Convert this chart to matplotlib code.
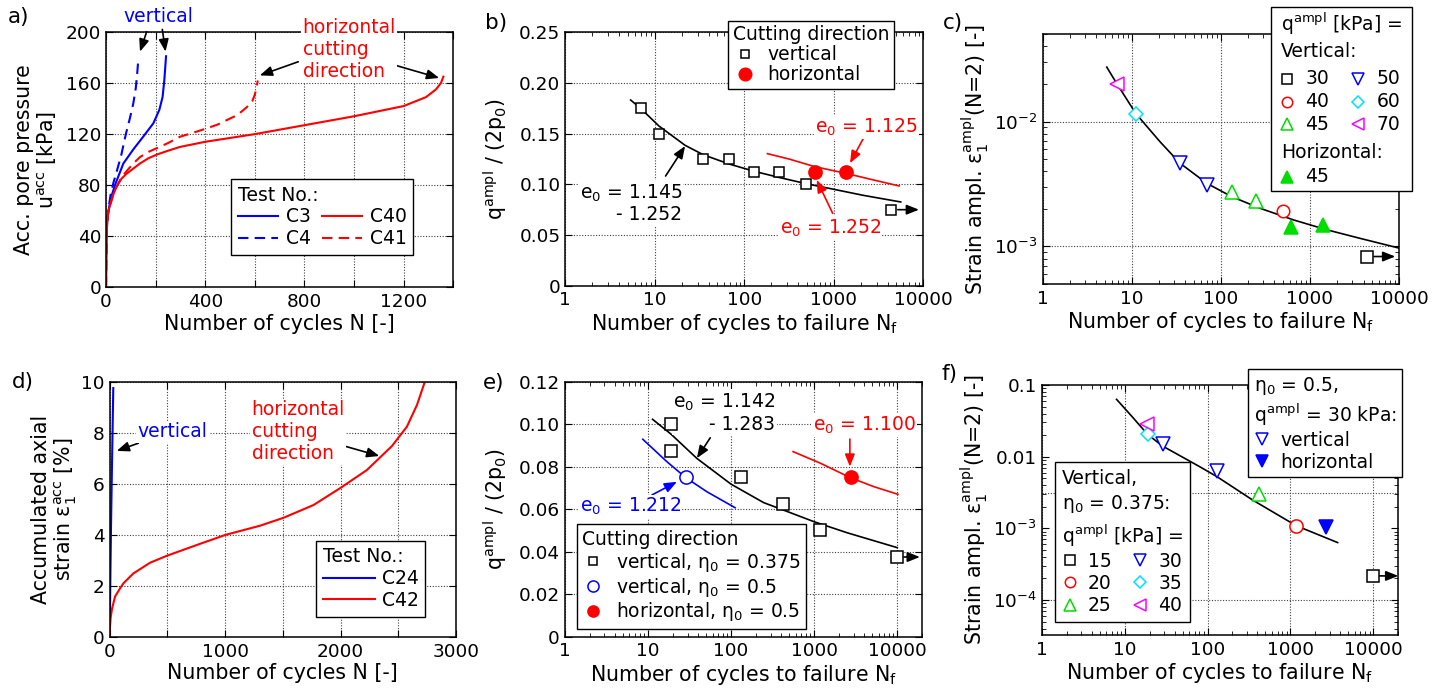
import matplotlib.pyplot as plt
import numpy as np
from matplotlib.lines import Line2D
from matplotlib.patches import Rectangle
from matplotlib.ticker import (FixedFormatter, FixedLocator, FuncFormatter,
                               LogLocator, MultipleLocator, NullFormatter)

W, H = 1449, 697
FS = 13.5          # legends, notes
FS_TICK = 13.3
FS_LABEL = 14.8
BLUE, RED, GREEN = '#0000ff', '#ff0000', '#00dd00'
CYAN, MAGENTA = '#00e0ff', '#ff00ff'

# ── a) accumulated pore pressure vs. N ───────────────────────────────────────
a_c3_n  = [0, 1, 2, 5, 9, 20, 36, 70, 110, 150, 191, 215, 228, 235, 242]
a_c3_u  = [0, 22, 38, 52, 59, 70, 80, 97, 108, 118, 128.5, 139, 149, 162, 181]
a_c4_n  = [0, 1, 2, 5, 9, 18, 30, 45, 62, 80, 97, 110, 120, 126, 130]
a_c4_u  = [0, 22, 38, 52, 60, 72, 82, 92, 104, 120, 133, 144, 156, 168, 178]
a_c40_n = [0, 1, 2, 5, 10, 16, 28, 43, 62, 83, 110, 137, 170, 205, 250, 299, 400,
           500, 600, 800, 1000, 1200, 1290, 1330, 1350, 1360]
a_c40_u = [0, 22, 38, 52, 60, 64, 72, 79, 85, 89, 93, 97, 101, 104, 107, 110, 114,
           117, 120, 127, 134, 142, 149, 155, 160, 165]
a_c41_n = [0, 1, 2, 5, 10, 16, 28, 43, 62, 83, 110, 137, 170, 205, 250, 299, 350,
           406, 450, 487, 530, 567, 590, 600, 607, 612]
a_c41_u = [0, 22, 38, 52, 60, 64, 72, 79, 86, 91, 97, 102, 106, 109, 113, 118, 121,
           124.5, 127.5, 131, 135, 141, 146, 151, 157, 162]

# ── b) q_ampl/(2p0) vs. N_f ──────────────────────────────────────────────────
b_vert_n = [7.0, 11.1, 34.8, 67.4, 130, 242, 489, 4390]
b_vert_q = [0.175, 0.15, 0.125, 0.125, 0.1125, 0.1125, 0.1, 0.075]
b_hor_n  = [616, 1356]
b_hor_q  = [0.1125, 0.1125]
b_fitv_n = [5.37, 7.0, 11.1, 21.8, 34.8, 67.4, 130, 242, 489, 1000, 2150, 5600]
b_fitv_q = [0.1832, 0.1747, 0.1576, 0.1385, 0.1292, 0.1201, 0.1128, 0.1069,
            0.1007, 0.0951, 0.0891, 0.0826]
b_fith_n = [181, 324, 616, 1356, 2780, 5370]
b_fith_q = [0.1303, 0.1247, 0.1174, 0.1109, 0.1043, 0.0984]

# ── c) strain amplitude vs. N_f ──────────────────────────────────────────────
c_q30_n, c_q30_e = [4370], [8.3e-4]
c_q40_n, c_q40_e = [497], [1.93e-3]
c_q45_n, c_q45_e = [133, 245], [2.75e-3, 2.31e-3]
c_q50_n, c_q50_e = [34.9, 69.7], [4.63e-3, 3.1e-3]
c_q60_n, c_q60_e = [11.1], [1.145e-2]
c_q70_n, c_q70_e = [6.8], [2.01e-2]
c_h45_n, c_h45_e = [617, 1400], [1.43e-3, 1.49e-3]
c_fit_n = [5.24, 6.8, 11.1, 20.8, 34.9, 69.7, 133, 276, 655, 1540, 3660, 10000]
c_fit_e = [0.0273, 0.0201, 0.0116, 6.88e-3, 4.63e-3, 3.2e-3, 2.5e-3, 2.02e-3,
           1.63e-3, 1.36e-3, 1.16e-3, 9.7e-4]

# ── d) accumulated axial strain vs. N ────────────────────────────────────────
d_c24_n = [0, 2, 6, 12, 19, 26, 31]
d_c24_e = [0, 0.8, 2.5, 4.5, 6.5, 8.4, 9.75]
d_c42_n = [0, 2, 8, 20, 46, 89, 118, 205, 350, 494, 783, 1003, 1303, 1506, 1766,
           2003, 2228, 2445, 2575, 2662, 2725]
d_c42_e = [0, 0.35, 0.75, 1.1, 1.58, 1.9, 2.1, 2.49, 2.91, 3.18, 3.65, 4.0, 4.36,
           4.67, 5.17, 5.85, 6.54, 7.48, 8.24, 9.09, 9.93]

# ── e) q_ampl/(2p0) vs. N_f, two mean stress ratios ──────────────────────────
e_v375_n = [18.9, 18.9, 132, 427, 1192, 10000]
e_v375_q = [0.1, 0.0875, 0.075, 0.0625, 0.05, 0.0375]
e_v05_n, e_v05_q = [28.7], [0.075]
e_h05_n, e_h05_q = [2740], [0.075]
e_fitv_n = [11.4, 18.9, 38.9, 100, 247, 427, 1000, 2500, 10000]
e_fitv_q = [0.1023, 0.0954, 0.0839, 0.0718, 0.0631, 0.0596, 0.0541, 0.0489, 0.0419]
e_fitb_n = [8.7, 16.9, 28.7, 51.4, 112]
e_fitb_q = [0.0929, 0.0824, 0.0748, 0.0682, 0.0607]
e_fitr_n = [558, 1195, 2740, 5230, 10190]
e_fitr_q = [0.0871, 0.0816, 0.0748, 0.0706, 0.067]

# ── f) strain amplitude vs. N_f ──────────────────────────────────────────────
f_q15_n, f_q15_e = [9910], [2.17e-4]
f_q20_n, f_q20_e = [1160], [1.09e-3]
f_q25_n, f_q25_e = [419], [3.0e-3]
f_q30_n, f_q30_e = [129], [6.4e-3]
f_q35_n, f_q35_e = [18.9], [0.0205]
f_q40_n, f_q40_e = [18.4], [0.029]
f_eta05v_n, f_eta05v_e = [28.7], [0.0152]
f_eta05h_n, f_eta05h_e = [2690], [1.06e-3]
f_fit_n = [8.0, 12.1, 18.9, 28.6, 80.3, 130, 349, 1172, 3710]
f_fit_e = [0.063, 0.037, 0.0205, 0.0141, 7.26e-3, 5.26e-3, 2.49e-3, 1.09e-3, 6.33e-4]
f_grid_e = [10 ** -2.5, 1e-4]

plt.rcParams.update({
    'font.family': ['DejaVu Sans'],
    'font.size': FS,
    'mathtext.fontset': 'dejavusans',
    'mathtext.default': 'regular',
    'axes.linewidth': 1.1,
    'axes.labelsize': FS_LABEL,
    'xtick.labelsize': FS_TICK, 'ytick.labelsize': FS_TICK,
    'xtick.direction': 'in', 'ytick.direction': 'in',
    'xtick.top': True, 'ytick.right': True,
    'xtick.major.size': 5, 'ytick.major.size': 5,
    'xtick.minor.size': 3, 'ytick.minor.size': 3,
    'xtick.major.pad': 4, 'ytick.major.pad': 3.5,
    'legend.fontsize': FS,
})

fig = plt.figure(figsize=(W / 100, H / 100), dpi=100)


def add_axes_px(l, t, r, b):
    return fig.add_axes([l / W, 1 - b / H, (r - l) / W, (b - t) / H])


GRID = dict(color='0.25', lw=0.8, ls=(0, (1, 1.5)))


def grid(ax, axis='both'):
    ax.grid(True, which='major', axis=axis, **GRID)
    ax.set_axisbelow(True)


def log_n_axis(ax, right):
    ax.set_xscale('log')
    ax.set_xlim(1, right)
    ax.xaxis.set_major_locator(FixedLocator([1, 10, 100, 1000, 10000]))
    ax.xaxis.set_major_formatter(FixedFormatter(['1', '10', '100', '1000', '10000']))
    ax.xaxis.set_minor_locator(LogLocator(base=10, subs=np.arange(2, 10), numticks=20))
    ax.xaxis.set_minor_formatter(NullFormatter())
    ax.set_xlabel('Number of cycles to failure N$_{\\rm f}$', labelpad=2)


def boxed_legend(ax, handles, labels, title_spacing=None, **kw):
    leg = ax.legend(handles, labels, loc='upper left', frameon=True, fancybox=False,
                    framealpha=1, edgecolor='k', borderaxespad=0, title_fontsize=FS,
                    alignment='left', **kw)
    leg.get_frame().set_linewidth(1.0)
    leg.set_zorder(10)
    if title_spacing:
        leg.get_title().set_linespacing(title_spacing)
    return leg


def arrow(ax, tail, tip, color='k'):
    ax.annotate('', xy=tip, xytext=tail, annotation_clip=False,
                arrowprops=dict(arrowstyle='-|>,head_length=0.55,head_width=0.22',
                                color=color, lw=1.2, shrinkA=0, shrinkB=0))


def note(ax, x, y, s, color='k', **kw):
    # white backing hides grid and curves, but stays under the symbols
    ax.text(x, y, s, color=color, va='center', zorder=3.5,
            bbox=dict(fc='white', ec='none', pad=1), **kw)


def mk(marker, color, filled=False, ms=9, mew=1.1):
    return dict(marker=marker, ls='none', mec=color, mew=mew, ms=ms,
                mfc=color if filled else 'white')


SQ = mk('s', 'k', ms=7.5)
SQ_L = mk('s', 'k', ms=6)

# ── a) ───────────────────────────────────────────────────────────────────────
ax = add_axes_px(106, 32, 453.3, 287.3)
ax.plot(a_c3_n, a_c3_u, color=BLUE, lw=1.5, label='C3')
ax.plot(a_c4_n, a_c4_u, color=BLUE, lw=1.5, ls=(0, (5, 3)), label='C4')
ax.plot(a_c40_n, a_c40_u, color=RED, lw=1.5, label='C40')
ax.plot(a_c41_n, a_c41_u, color=RED, lw=1.5, ls=(0, (5, 3)), label='C41')
ax.set_xlim(0, 1400)
ax.set_ylim(0, 200)
ax.xaxis.set_major_locator(MultipleLocator(200))
ax.xaxis.set_major_formatter(FuncFormatter(lambda v, p: f'{v:.0f}' if v % 400 == 0 else ''))
ax.yaxis.set_major_locator(MultipleLocator(40))
grid(ax)
ax.set_xlabel('Number of cycles N [-]', labelpad=2)
ax.set_ylabel('Acc. pore pressure\nu$^{\\rm acc}$ [kPa]', labelpad=5, linespacing=1.05)
h, l = ax.get_legend_handles_labels()
boxed_legend(ax, h, l, ncol=2, title='Test No.:', bbox_to_anchor=(0.36, 0.424),
             handlelength=2.15, handletextpad=0.43, columnspacing=0.57,
             labelspacing=0.15, borderpad=0.35)
ax.text(213, 212, 'vertical', color=BLUE, ha='center', va='center')
arrow(ax, (164, 200.2), (137, 184.6))
arrow(ax, (227, 202), (240, 184.6))
note(ax, 793, 186, 'horizontal\ncutting\ndirection', color=RED, ha='left',
     linespacing=1.2)
arrow(ax, (775, 176.7), (620, 166))
arrow(ax, (1094, 178), (1343, 164))

# ── b) ───────────────────────────────────────────────────────────────────────
ax = add_axes_px(565.3, 32.3, 923.3, 285.7)
ax.plot(b_fitv_n, b_fitv_q, color='k', lw=1.2, zorder=3)
ax.plot(b_fith_n, b_fith_q, color=RED, lw=1.2, zorder=3)
ax.plot(b_vert_n, b_vert_q, zorder=4, **SQ)
ax.plot(b_hor_n, b_hor_q, zorder=4, **mk('o', RED, True, ms=9.5))
log_n_axis(ax, 10000)
ax.set_ylim(0, 0.25)
ax.yaxis.set_major_locator(FixedLocator([0, 0.05, 0.1, 0.15, 0.2, 0.25]))
ax.yaxis.set_major_formatter(FixedFormatter(['0', '0.05', '0.10', '0.15', '0.20', '0.25']))
grid(ax)
ax.set_ylabel('q$^{\\rm ampl}$ / (2p$_0$)', labelpad=7)
arrow(ax, (b_vert_n[-1] * 1.18, b_vert_q[-1]), (8950, b_vert_q[-1]))
boxed_legend(ax, [Line2D([], [], **SQ_L), Line2D([], [], **mk('o', RED, True, ms=9))],
             ['vertical', 'horizontal'], title='Cutting direction',
             bbox_to_anchor=(0.4545, 1.046), handlelength=1.3, handletextpad=0.55,
             labelspacing=0.05, borderpad=0.25)
note(ax, 20.1, 0.0811, 'e$_0$ = 1.145\n- 1.252', ha='right', multialignment='right',
     linespacing=1.1)
arrow(ax, (13.2, 0.1082), (21.8, 0.1378))
note(ax, 617, 0.1566, 'e$_0$ = 1.125', color=RED, ha='left')
arrow(ax, (2140, 0.1454), (1517, 0.1208), color=RED)
note(ax, 249, 0.0569, 'e$_0$ = 1.252', color=RED, ha='left')
arrow(ax, (972, 0.0714), (644, 0.1043), color=RED)

# ── c) ───────────────────────────────────────────────────────────────────────
ax = add_axes_px(1042.7, 34.3, 1399, 284)
ax.plot(c_fit_n, c_fit_e, color='k', lw=1.2, zorder=3)
ax.plot(c_q30_n, c_q30_e, zorder=4, **mk('s', 'k', ms=8))
ax.plot(c_q40_n, c_q40_e, zorder=4, **mk('o', RED, ms=9))
ax.plot(c_q45_n, c_q45_e, zorder=4, **mk('^', GREEN, ms=10.5))
ax.plot(c_q50_n, c_q50_e, zorder=4, **mk('v', BLUE, ms=10.5))
ax.plot(c_q60_n, c_q60_e, zorder=4, **mk('D', CYAN, ms=7.5))
ax.plot(c_q70_n, c_q70_e, zorder=4, **mk('<', MAGENTA, ms=10.5))
ax.plot(c_h45_n, c_h45_e, zorder=4, **mk('^', GREEN, True, ms=10.5))
log_n_axis(ax, 10000)
ax.set_yscale('log')
ax.set_ylim(5e-4, 5e-2)
ax.yaxis.set_minor_formatter(NullFormatter())
grid(ax)
ax.set_ylabel('Strain ampl. ε$_1^{\\rm ampl}$(N=2) [-]', labelpad=2)
arrow(ax, (c_q30_n[0] * 1.2, c_q30_e[0]), (9080, c_q30_e[0]))


def fig_xy(x, y):
    return x / W, 1 - y / H


# legend of c) drawn as a framed block of text rows
fig.add_artist(Rectangle(fig_xy(1271, 191), (1411.7 - 1271) / W, (191 - 6.7) / H,
                         transform=fig.transFigure, fc='white', ec='k', lw=1.0, zorder=10))
for s, y in [('q$^{\\rm ampl}$ [kPa] =', 24.3), ('Vertical:', 51.7), ('Horizontal:', 152.7)]:
    fig.text(*fig_xy(1281, y), s, va='center', ha='left', zorder=11)
c_leg_rows = [
    (mk('s', 'k', ms=6.5), '30', 1286.7, 79), (mk('o', RED, ms=7.5), '40', 1286.7, 101.7),
    (mk('^', GREEN, ms=8.5), '45', 1286.7, 124), (mk('v', BLUE, ms=8.5), '50', 1358.3, 79),
    (mk('D', CYAN, ms=6.5), '60', 1358.3, 101.7), (mk('<', MAGENTA, ms=8.5), '70', 1358.3, 124),
    (mk('^', GREEN, True, ms=8.5), '45', 1286.7, 176.7),
]
for style, s, x, y in c_leg_rows:
    fx, fy = fig_xy(x, y)
    fig.add_artist(Line2D([fx], [fy], transform=fig.transFigure, zorder=11, **style))
    fig.text(*fig_xy(x + 18.5, y), s, va='center', ha='left', zorder=11)

# ── d) ───────────────────────────────────────────────────────────────────────
ax = add_axes_px(109.7, 381.7, 456, 637)
ax.plot(d_c24_n, d_c24_e, color=BLUE, lw=1.5, label='C24')
ax.plot(d_c42_n, d_c42_e, color=RED, lw=1.5, label='C42')
ax.set_xlim(0, 3000)
ax.set_ylim(0, 10)
ax.xaxis.set_major_locator(MultipleLocator(500))
ax.xaxis.set_major_formatter(FuncFormatter(lambda v, p: f'{v:.0f}' if v % 1000 == 0 else ''))
ax.yaxis.set_major_locator(MultipleLocator(2))
grid(ax)
ax.set_xlabel('Number of cycles N [-]', labelpad=2)
ax.set_ylabel('Accumulated axial\nstrain ε$_1^{\\rm acc}$ [%]', labelpad=2, linespacing=1.05)
h, l = ax.get_legend_handles_labels()
boxed_legend(ax, h, l, title='Test No.:', bbox_to_anchor=(0.596, 0.377),
             handlelength=2.8, handletextpad=0.36, labelspacing=0.15, borderpad=0.35)
note(ax, 544, 8.04, 'vertical', color=BLUE, ha='center')
arrow(ax, (248, 7.59), (61, 7.29))
note(ax, 1230, 8.04, 'horizontal\ncutting\ndirection', color=RED, ha='left',
     linespacing=1.2)
arrow(ax, (1932, 7.61), (2336, 7.09))

# ── e) ───────────────────────────────────────────────────────────────────────
ax = add_axes_px(564.7, 381.7, 922.3, 636.7)
ax.plot(e_fitv_n, e_fitv_q, color='k', lw=1.2, zorder=3)
ax.plot(e_fitb_n, e_fitb_q, color=BLUE, lw=1.2, zorder=3)
ax.plot(e_fitr_n, e_fitr_q, color=RED, lw=1.2, zorder=3)
ax.plot(e_v375_n, e_v375_q, zorder=4, **mk('s', 'k', ms=8))
ax.plot(e_v05_n, e_v05_q, zorder=4, **mk('o', BLUE, ms=9.5))
ax.plot(e_h05_n, e_h05_q, zorder=4, **mk('o', RED, True, ms=9.5))
log_n_axis(ax, 20000)
ax.set_ylim(0, 0.12)
ax.yaxis.set_major_locator(FixedLocator([0, 0.02, 0.04, 0.06, 0.08, 0.1, 0.12]))
ax.yaxis.set_major_formatter(FixedFormatter(['0', '0.02', '0.04', '0.06', '0.08', '0.10', '0.12']))
grid(ax)
ax.set_ylabel('q$^{\\rm ampl}$ / (2p$_0$)', labelpad=7)
arrow(ax, (e_v375_n[-1] * 1.2, e_v375_q[-1]), (18700, e_v375_q[-1]))
boxed_legend(ax, [Line2D([], [], **SQ_L), Line2D([], [], **mk('o', BLUE, ms=8)),
                  Line2D([], [], **mk('o', RED, True, ms=8))],
             ['vertical, η$_0$ = 0.375', 'vertical, η$_0$ = 0.5', 'horizontal, η$_0$ = 0.5'],
             title='Cutting direction', bbox_to_anchor=(0.0336, 0.441),
             handlelength=1.1, handletextpad=0.7, labelspacing=0.1, borderpad=0.3)
note(ax, 342, 0.1055, 'e$_0$ = 1.142\n- 1.283', ha='right', multialignment='right',
     linespacing=1.15)
arrow(ax, (56.3, 0.0936), (38.9, 0.084))
note(ax, 978, 0.0996, 'e$_0$ = 1.100', color=RED, ha='left')
arrow(ax, (2690, 0.093), (2690, 0.08), color=RED)
note(ax, 1.53, 0.0612, 'e$_0$ = 1.212', color=BLUE, ha='left')
arrow(ax, (11.2, 0.0667), (22.4, 0.0729), color=BLUE)

# ── f) ───────────────────────────────────────────────────────────────────────
ax = add_axes_px(1041.7, 385, 1398.3, 635)
ax.plot(f_fit_n, f_fit_e, color='k', lw=1.2, zorder=3)
ax.plot(f_q15_n, f_q15_e, zorder=4, **mk('s', 'k', ms=8))
ax.plot(f_q20_n, f_q20_e, zorder=4, **mk('o', RED, ms=9.5))
ax.plot(f_q25_n, f_q25_e, zorder=4, **mk('^', GREEN, ms=10.5))
ax.plot(f_q30_n, f_q30_e, zorder=4, **mk('v', BLUE, ms=10.5))
ax.plot(f_q35_n, f_q35_e, zorder=4, **mk('D', CYAN, ms=7.5))
ax.plot(f_q40_n, f_q40_e, zorder=4, **mk('<', MAGENTA, ms=10.5))
ax.plot(f_eta05v_n, f_eta05v_e, zorder=4, **mk('v', BLUE, ms=10.5))
ax.plot(f_eta05h_n, f_eta05h_e, zorder=4, **mk('v', BLUE, True, ms=10.5))
log_n_axis(ax, 20000)
ax.set_yscale('log')
ax.set_ylim(3.25e-5, 0.1)
ax.yaxis.set_major_locator(FixedLocator([1e-4, 1e-3, 1e-2, 0.1]))
ax.yaxis.set_major_formatter(FixedFormatter(['$10^{-4}$', '$10^{-3}$', '0.01', '0.1']))
ax.yaxis.set_minor_formatter(NullFormatter())
grid(ax, axis='x')
for g in f_grid_e:
    ax.axhline(g, zorder=0.5, **GRID)
ax.set_ylabel('Strain ampl. ε$_1^{\\rm ampl}$(N=2) [-]', labelpad=2)
arrow(ax, (f_q15_n[0] * 1.2, f_q15_e[0]), (20000, f_q15_e[0]))
leg = boxed_legend(ax, [Line2D([], [], **mk('s', 'k', ms=6.5)), Line2D([], [], **mk('o', RED, ms=7.5)),
                        Line2D([], [], **mk('^', GREEN, ms=8.5)), Line2D([], [], **mk('v', BLUE, ms=8.5)),
                        Line2D([], [], **mk('D', CYAN, ms=6.5)), Line2D([], [], **mk('<', MAGENTA, ms=8.5))],
                   ['15', '20', '25', '30', '35', '40'], ncol=2,
                   title='Vertical,\nη$_0$ = 0.375:\nq$^{\\rm ampl}$ [kPa] =', title_spacing=1.35,
                   bbox_to_anchor=(0.0373, 0.691), handlelength=0.85, handletextpad=0.55,
                   columnspacing=1.1, labelspacing=0.17, borderpad=0.35)
ax.add_artist(leg)
boxed_legend(ax, [Line2D([], [], **mk('v', BLUE, ms=8.5)), Line2D([], [], **mk('v', BLUE, True, ms=8.5))],
             ['vertical', 'horizontal'], title='η$_0$ = 0.5,\nq$^{\\rm ampl}$ = 30 kPa:',
             title_spacing=1.25, bbox_to_anchor=(0.579, 1.063), handlelength=0.85,
             handletextpad=0.55, labelspacing=0.15, borderpad=0.3)

# panel letters
for s, x, y in [('a)', 8, 17), ('b)', 485, 23), ('c)', 943, 23),
                ('d)', 12, 382), ('e)', 483, 383), ('f)', 942, 374)]:
    fig.text(x / W, 1 - y / H, s, ha='left', va='center', fontsize=15.5)

fig.savefig('out.png', dpi=100)
